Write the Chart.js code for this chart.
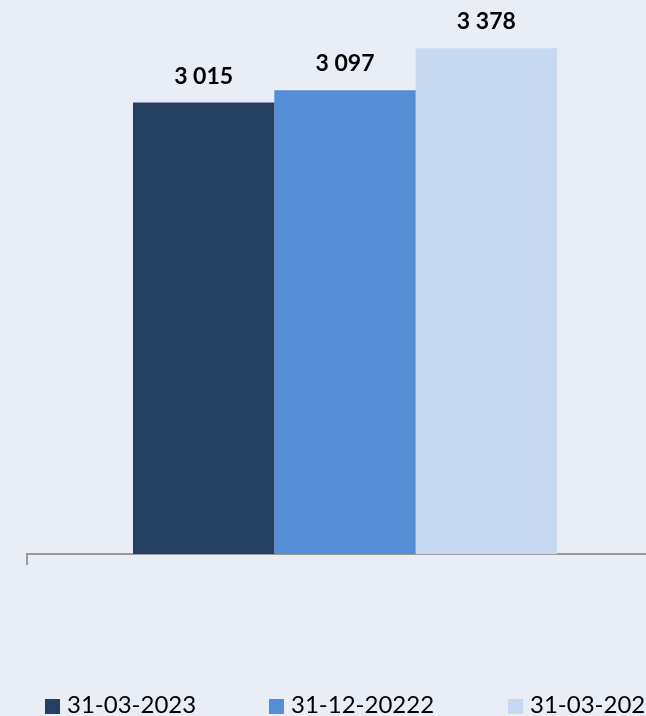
<!DOCTYPE html>
<html>
<head>
<meta charset="utf-8">
<script src="https://cdn.jsdelivr.net/npm/chart.js@4/dist/chart.umd.min.js"></script>
<style>
    html, body {
        margin: 0;
        padding: 0;
        overflow: hidden;
        background: #E9EDF6;
        width: 646px;
        height: 716px;
    }
    .wrap {
        position: relative;
        width: 646px;
        height: 716px;
        overflow: hidden;
    }
    canvas {
        display: block;
        position: absolute;
        left: 0;
        top: 0;
    }
    .legend-item {
        position: absolute;
        top: 690px;
        height: 28px;
        line-height: 28px;
        white-space: nowrap;
        font-family: Lato, "Open Sans", sans-serif;
        font-size: 24px;
        color: #000000;
    }
    .legend-item span {
        display: inline-block;
        width: 15px;
        height: 15px;
        margin-right: 7px;
        vertical-align: -1px;
    }
</style>
</head>
<body>
<div class="wrap">
    <canvas id="balance-chart" width="673" height="716"></canvas>
    <div id="legend"></div>
</div>
<script>

    // Prepare data
    var categories = [''];
    var periods = ['31-03-2023', '31-12-20222', '31-03-2022'];
    var values = [3015, 3097, 3378];
    var colors = ['#243F60', '#558ED5', '#C6D9F1'];

    var datasets = periods.map(function(period, i) {
        return {
            label: period,
            data: [values[i]],
            backgroundColor: colors[i],
            borderWidth: 0
        };
    });

    function formatNumber(v) {
        return v.toString().replace(/\B(?=(\d{3})+(?!\d))/g, ' ');
    }

    var valueLabels = {
        id: 'valueLabels',
        afterDatasetsDraw: function(chart) {
            var ctx = chart.ctx;
            ctx.save();
            ctx.font = 'bold 23px Lato, "Open Sans", sans-serif';
            ctx.fillStyle = '#000000';
            ctx.textAlign = 'center';
            ctx.textBaseline = 'alphabetic';
            chart.data.datasets.forEach(function(ds, i) {
                chart.getDatasetMeta(i).data.forEach(function(bar, j) {
                    ctx.fillText(formatNumber(ds.data[j]), bar.x, bar.y - 19);
                });
            });
            ctx.restore();
        }
    };

    var ctx = document.getElementById("balance-chart");

    var myBarChart = new Chart(ctx, {
        type: 'bar',
        data: {
            labels: categories,
            datasets: datasets
        },
        plugins: [valueLabels],
        options: {
            responsive: false,
            animation: false,
            layout: {
                padding: { left: 27, right: 0, top: 0, bottom: 0 }
            },
            datasets: {
                bar: {
                    categoryPercentage: 0.6667,
                    barPercentage: 1
                }
            },
            scales: {
                x: {
                    z: 1,
                    ticks: { display: false },
                    grid: {
                        offset: true,
                        drawOnChartArea: false,
                        drawTicks: true,
                        tickLength: 11,
                        color: '#999999',
                        lineWidth: 2
                    },
                    border: { display: true, color: '#999999', width: 2 },
                    afterFit: function(scale) { scale.height = 162; }
                },
                y: {
                    position: 'right',
                    min: 0,
                    max: 3700,
                    ticks: { display: false },
                    grid: { display: false },
                    border: { display: false },
                    afterFit: function(scale) { scale.width = 10; }
                }
            },
            plugins: {
                tooltip: { enabled: false },
                legend: { display: false }
            }
        }
    });

    // Legend, built from the same datasets
    var legendLeft = [45, 269, 508];
    var legend = document.getElementById("legend");
    myBarChart.data.datasets.forEach(function(ds, i) {
        var item = document.createElement('div');
        item.className = 'legend-item';
        item.style.left = legendLeft[i] + 'px';
        var box = document.createElement('span');
        box.style.background = ds.backgroundColor;
        item.appendChild(box);
        item.appendChild(document.createTextNode(ds.label));
        legend.appendChild(item);
    });

</script>
</body>
</html>
